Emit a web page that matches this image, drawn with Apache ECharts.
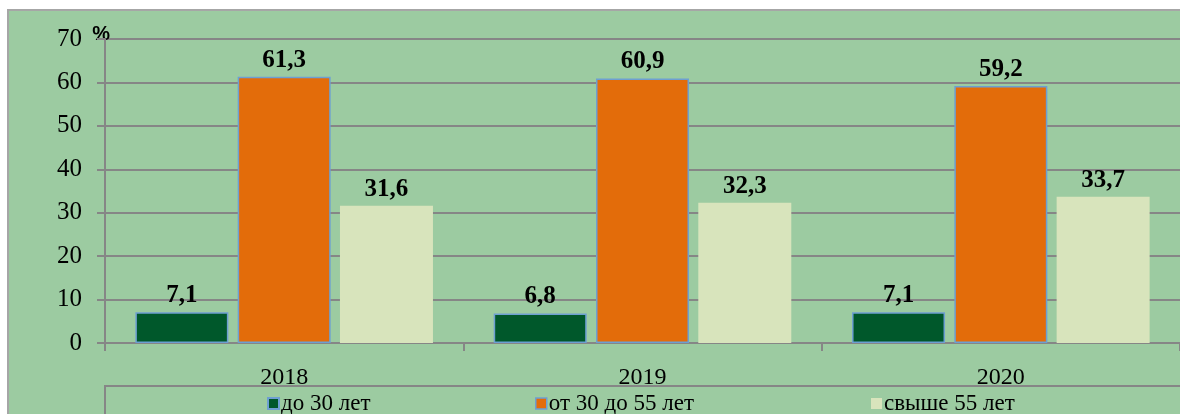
<!DOCTYPE html>
<html>
<head>
<meta charset="utf-8">
<script src="https://cdn.jsdelivr.net/npm/echarts@6/dist/echarts.min.js"></script>
<style>
html,body{margin:0;padding:0;background:#ffffff;}
#chart{width:1180px;height:414px;}
</style>
</head>
<body>
<div id="chart"></div>
<script>
const categories = ['2018', '2019', '2020'];
const seriesNames = ['до 30 лет', 'от 30 до 55 лет', 'свыше 55 лет'];
const under30 = [7.1, 6.8, 7.1];
const from30to55 = [61.3, 60.9, 59.2];
const over55 = [31.6, 32.3, 33.7];
const yTicks = [0, 10, 20, 30, 40, 50, 60, 70];

const colors = ['#00582b', '#e36c0a', '#d8e4bc'];
const serif = 'Liberation Serif';

const chart = echarts.init(document.getElementById('chart'), null, {renderer: 'canvas'});

function fmt(p) { return String(p.value).replace('.', ','); }

function mkSeries(name, data, color, border) {
  return {
    name: name,
    type: 'bar',
    data: data,
    barWidth: 93,
    barGap: '10%',
    itemStyle: {
      color: color,
      borderColor: border ? '#6d9fd2' : color,
      borderWidth: border ? 1.5 : 0
    },
    label: {
      show: true,
      position: 'top',
      distance: 4,
      formatter: fmt,
      fontFamily: serif,
      fontWeight: 'bold',
      fontSize: 25,
      color: '#000'
    },
    z: 3
  };
}

const legendBase = {
  itemWidth: 11,
  itemHeight: 11,
  icon: 'rect',
  top: 392,
  padding: 0,
  textStyle: {fontFamily: serif, fontSize: 23, color: '#000', padding: [0, 0, 0, -3]}
};

const option = {
  animation: false,
  backgroundColor: 'transparent',
  graphic: [
    {
      type: 'rect',
      z: -10,
      shape: {x: 8, y: 10, width: 1180, height: 410},
      style: {fill: '#9ccba1', stroke: '#a6a6a6', lineWidth: 2}
    },
    {
      type: 'rect',
      z: -5,
      shape: {x: 105, y: 386, width: 1090, height: 50},
      style: {fill: 'none', stroke: '#868686', lineWidth: 2}
    }
  ],
  grid: {left: 105, top: 39, right: -5, bottom: 71, containLabel: false},
  legend: [
    Object.assign({}, legendBase, {left: 267, data: [{name: seriesNames[0]}]}),
    Object.assign({}, legendBase, {left: 535, data: [{name: seriesNames[1], itemStyle: {borderColor: '#6d9fd2', borderWidth: 1.5}}]}),
    Object.assign({}, legendBase, {left: 871, data: [{name: seriesNames[2]}]})
  ],
  xAxis: {
    type: 'category',
    data: categories,
    axisLine: {show: true, lineStyle: {color: '#868686', width: 2}},
    axisTick: {show: true, length: 8, alignWithLabel: false, lineStyle: {color: '#868686', width: 2}},
    axisLabel: {fontFamily: serif, fontSize: 24, color: '#000', margin: 23}
  },
  yAxis: {
    type: 'value',
    min: yTicks[0],
    max: yTicks[yTicks.length - 1],
    interval: 10,
    name: '%',
    nameLocation: 'end',
    nameGap: -5,
    nameTextStyle: {fontFamily: 'Liberation Sans', fontWeight: 'bold', fontSize: 20, color: '#000', align: 'right', padding: [0, -5, 0, 0]},
    axisLine: {show: true, lineStyle: {color: '#868686', width: 2}},
    axisTick: {show: true, length: 8, lineStyle: {color: '#868686', width: 2}},
    splitLine: {show: true, lineStyle: {color: '#868686', width: 2}},
    axisLabel: {fontFamily: serif, fontSize: 25, color: '#000', margin: 23}
  },
  series: [
    mkSeries(seriesNames[0], under30, colors[0], true),
    mkSeries(seriesNames[1], from30to55, colors[1], true),
    mkSeries(seriesNames[2], over55, colors[2], false)
  ]
};

chart.setOption(option);
</script>
</body>
</html>
